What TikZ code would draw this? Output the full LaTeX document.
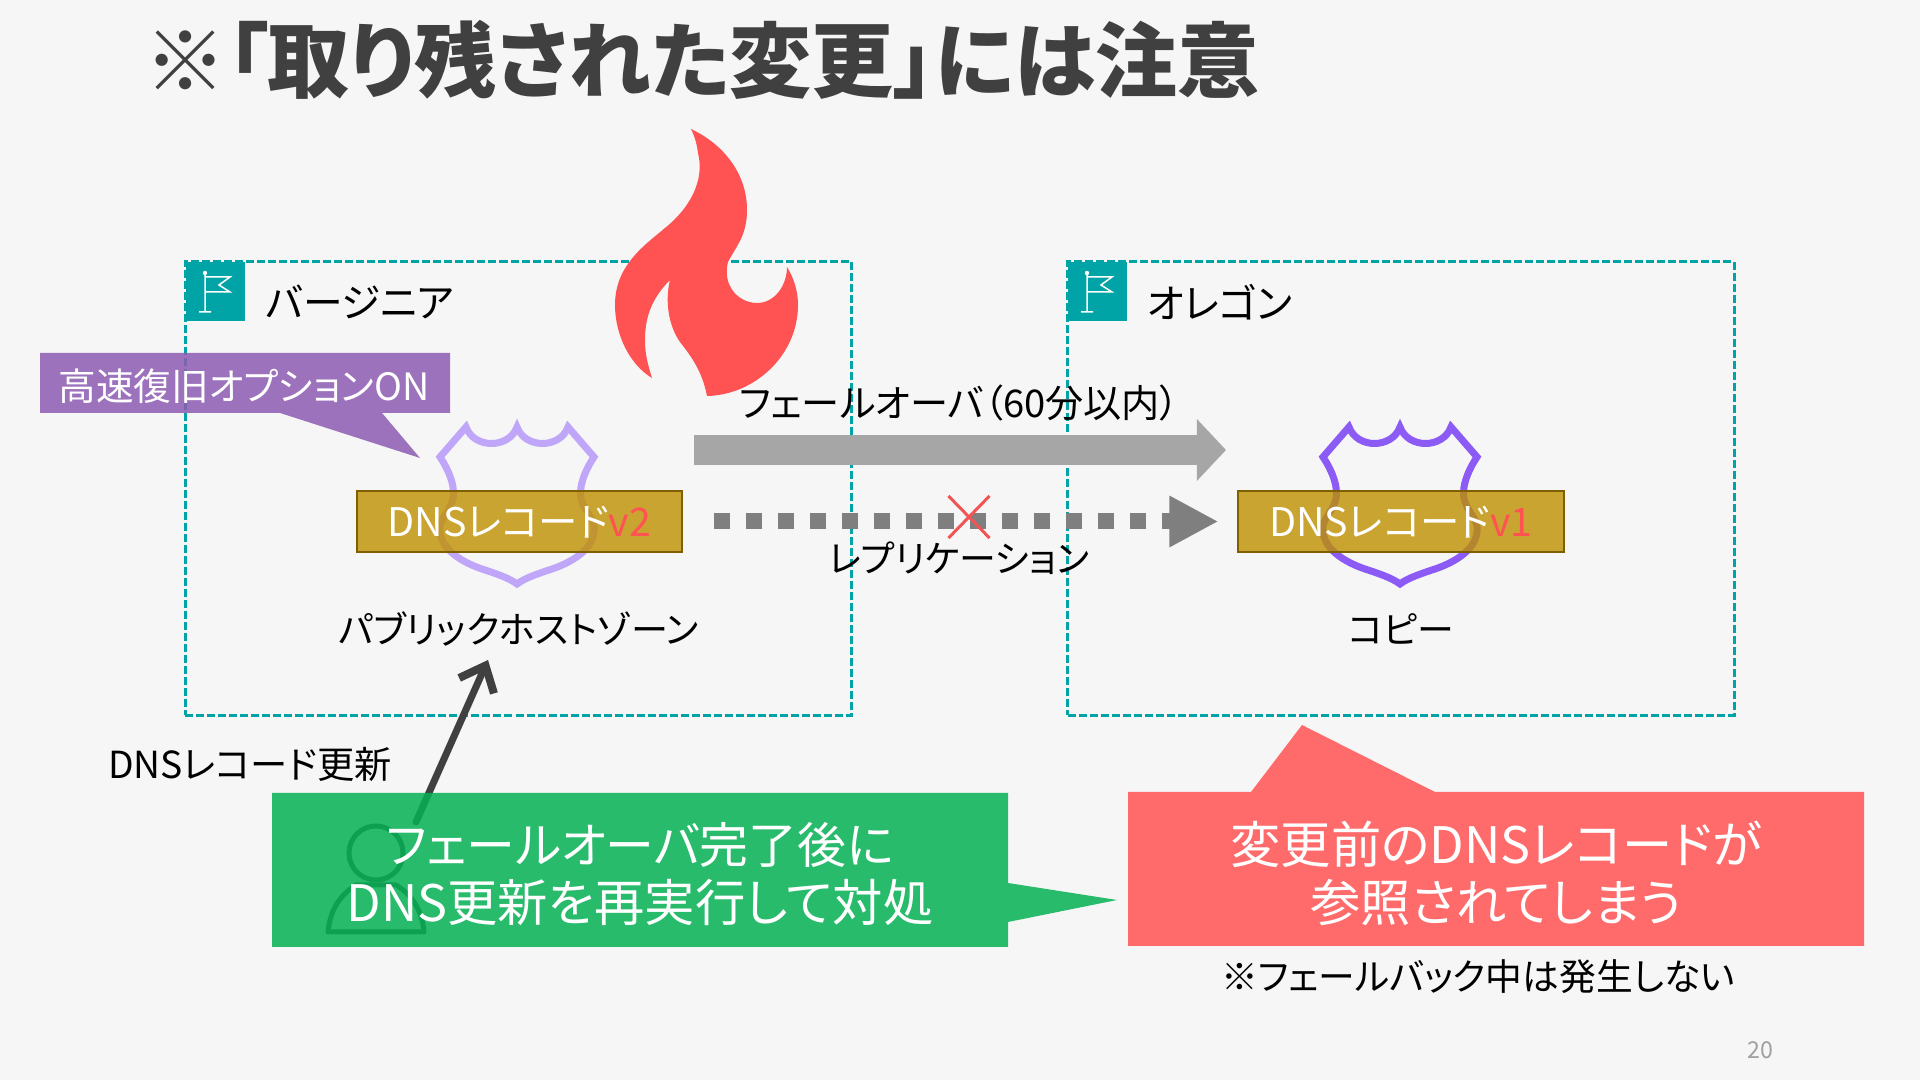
\documentclass[tikz,border=0pt]{standalone}
\usepackage{fontspec}
\setmainfont[RawFeature=+palt]{Noto Sans CJK JP}
\usetikzlibrary{arrows.meta,shapes.misc}

\begin{document}
\begin{tikzpicture}[x=0.01cm, y=-0.01cm,
    region/.style={draw=regionc, line width=0.03cm, dash pattern=on 0.08cm off 0.03cm,
        minimum width=6.66cm, minimum height=4.53cm},
    flagbox/.style={fill=regionc, minimum size=0.59cm, inner sep=0},
    dnsbox/.style={draw=dnsline, line width=0.02cm, fill=dnsfill, fill opacity=0.8, text opacity=1,
        minimum width=3.25cm, minimum height=0.61cm, inner sep=0, text=white,
        font=\fontsize{11.2}{13}\selectfont},
    lbl/.style={inner sep=0, font=\fontsize{10.5}{13}\selectfont},
    biglbl/.style={inner sep=0, text=white, align=center, font=\fontsize{14.3}{16.5}\selectfont},
    callout/.style={fill opacity=0.85}]
\definecolor{page}{RGB}{246,246,246}
\definecolor{regionc}{RGB}{0,164,166}
\definecolor{dnsfill}{RGB}{191,144,0}
\definecolor{dnsline}{RGB}{127,96,0}
\definecolor{fire}{RGB}{255,82,82}
\definecolor{shieldv2}{RGB}{192,166,248}
\definecolor{shieldv1}{RGB}{140,90,245}
\definecolor{optc}{RGB}{142,92,178}
\definecolor{okc}{RGB}{6,177,85}
\definecolor{warnc}{RGB}{255,107,107}
\definecolor{ink}{RGB}{64,64,64}

\fill[page] (0,0) rectangle (1920,1080);
\useasboundingbox (0,0) rectangle (1920,1080);

% ======================================================
% title
% ======================================================
\node[inner sep=0, anchor=west, text=ink, font=\fontsize{23.35}{26}\selectfont\bfseries] (title) at (144,60)
    {※「取り残された変更」には注意};

% ======================================================
% regions
% ======================================================
\node[region] (virginia) at (518.5,488.5) {};
\node[region] (oregon) at (1401,488.5) {};

\foreach \x in {185,1067} {
    \node[flagbox, anchor=north west] (flag\x) at (\x,261) {};
    \draw[white, line width=0.015cm]
        (\x+14,312) -- (\x+26,312)
        (\x+20,312) -- (\x+20,274)
        (\x+20,277) -- (\x+45,277) -- (\x+34,285) -- (\x+45,292) -- (\x+20,292);
    \fill[white] (\x+20,273) circle [radius=2.2];
}

\node[lbl, anchor=west] (virginialbl) at (265,302) {\fontsize{11.3}{13}\selectfont バージニア};
\node[lbl, anchor=west] (oregonlbl) at (1146,302) {\fontsize{11.4}{13}\selectfont オレゴン};

% ======================================================
% shields
% ======================================================
\foreach \x/\col in {517/shieldv2,1400/shieldv1} {
    \draw[\col, line width=0.07cm, miter limit=10]
        (\x-51,427)
        .. controls (\x-43,449) and (\x-8,449) .. (\x,427)
        .. controls (\x+8,449) and (\x+43,449) .. (\x+51,427)
        -- (\x+77,457)
        .. controls (\x+65,475) and (\x+61,492) .. (\x+65,502)
        .. controls (\x+69,514) and (\x+79,520) .. (\x+77,532)
        .. controls (\x+75,552) and (\x+50,564) .. (\x+35,569)
        .. controls (\x+20,574) and (\x+8,578) .. (\x,584)
        .. controls (\x-8,578) and (\x-20,574) .. (\x-35,569)
        .. controls (\x-50,564) and (\x-75,552) .. (\x-77,532)
        .. controls (\x-79,520) and (\x-69,514) .. (\x-65,502)
        .. controls (\x-61,492) and (\x-65,475) .. (\x-77,457)
        -- cycle;
}

% dns records
\node[dnsbox] (dnsv2) at (519.5,521.5) {\raisebox{0pt}[0.36cm][0.05cm]{DNSレコード\textcolor{fire}{v2}}};
\node[dnsbox] (dnsv1) at (1401,521.5) {\raisebox{0pt}[0.36cm][0.05cm]{DNSレコード\textcolor{fire}{v1}}};

\node[lbl] (zone) at (519,629) {\fontsize{10.55}{13}\selectfont パブリックホストゾーン};
\node[lbl] (copy) at (1401,629) {コピー};

% ======================================================
% flame
% ======================================================
\fill[fire] (691,129)
    .. controls (725,145) and (747,175) .. (747,210)
    .. controls (747,235) and (737,245) .. (728,262)
    .. controls (722,285) and (738,303) .. (757,303)
    .. controls (775,303) and (787,285) .. (787,267)
    .. controls (795,280) and (798,293) .. (798,305)
    .. controls (798,355) and (755,395) .. (707,396)
    .. controls (702,370) and (690,355) .. (680,342)
    .. controls (668,325) and (665,300) .. (670,280)
    .. controls (650,300) and (645,320) .. (645,340)
    .. controls (645,355) and (648,365) .. (652,378)
    .. controls (630,365) and (615,335) .. (615,305)
    .. controls (615,265) and (645,245) .. (665,228)
    .. controls (690,208) and (705,180) .. (698,153)
    .. controls (697,145) and (695,137) .. (691,129)
    -- cycle;

% ======================================================
% failover, replication
% ======================================================
\coordinate (failfrom) at (694,450);
\coordinate (failto) at (1226,450);
\draw[line width=0.3cm, draw={rgb,255:red,166;green,166;blue,166},
    -{Triangle[length=0.29cm, width=0.6cm]}] (failfrom) -- (failto);

\draw[line width=0.16cm, draw={rgb,255:red,127;green,127;blue,127},
    dash pattern=on 0.16cm off 0.16cm, shorten <=0.31cm, shorten >=0.19cm,
    -{Triangle[length=0.49cm, width=0.48cm]}] (dnsv2.east) -- (dnsv1.west);

\node[draw={rgb,255:red,240;green,85;blue,85}, cross out, line width=0.03cm, inner sep=0,
    minimum width=0.38cm, minimum height=0.39cm] (repstop) at (969,517) {};

\node[lbl] (faillbl) at (959,403) {\fontsize{10.85}{13}\selectfont フェールオーバ（60分以内）};
\node[lbl] (replbl) at (959,558) {レプリケーション};

% ======================================================
% user, update
% ======================================================
\node[draw=ink, circle, line width=0.05cm, minimum size=0.54cm, inner sep=0] (user) at (376,853) {};
\draw[ink, line width=0.05cm, line join=round]
    (328,932) .. controls (330,910) and (340,895) .. (356,885)
    -- (396,885) .. controls (412,895) and (422,910) .. (424,932) -- cycle;

\coordinate (updfrom) at (416,822);
\coordinate (updto) at (488,660);
\draw[ink, line width=0.07cm, line cap=round,
    -{Straight Barb[length=0.22cm, width=0.38cm, line width=0.08cm]}] (updfrom) -- (updto);
\node[lbl] (updlbl) at (250,764) {\fontsize{10.6}{13}\selectfont DNSレコード更新};

% ======================================================
% callouts
% ======================================================
\fill[optc, callout] (40,353) -- (450,353) -- (450,413) -- (382,413) -- (420,458) -- (280,413) -- (40,413) -- cycle;
\node[lbl, text=white] (optlbl) at (244,386) {\fontsize{10.7}{13}\selectfont 高速復旧オプションON};

\fill[okc, callout] (272,793) -- (1008,793) -- (1008,883) -- (1117,900) -- (1008,922) -- (1008,947) -- (272,947) -- cycle;
\node[biglbl] (oklbl) at (640,874) {{\fontsize{13.9}{16.5}\selectfont フェールオーバ完了後に}\\DNS更新を再実行して対処};

\fill[warnc] (1128,792) -- (1251,792) -- (1302,725) -- (1435,792) -- (1864,792) -- (1864,946) -- (1128,946) -- cycle;
\node[biglbl] (warnlbl) at (1496,873) {変更前のDNSレコードが\\参照されてしまう};

\node[lbl] (backlbl) at (1478,977) {\fontsize{10.45}{13}\selectfont ※フェールバック中は発生しない};
\node[inner sep=0, text={rgb,255:red,160;green,160;blue,160}, font=\fontsize{6.6}{8}\selectfont] (pageno) at (1760,1050) {20};

\end{tikzpicture}
\end{document}
